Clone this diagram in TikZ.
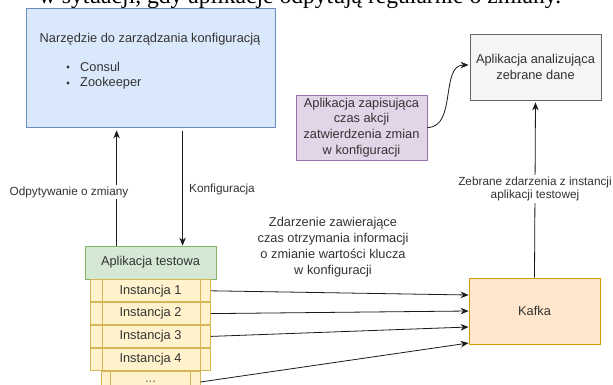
\documentclass[tikz,border=0pt]{standalone}
\usepackage{fontspec}
\setmainfont{Liberation Sans}
\newfontfamily\pagefont{Liberation Serif}
\usetikzlibrary{arrows.meta,calc,positioning}
\definecolor{blueF}{HTML}{DAE8FC}
\definecolor{blueD}{HTML}{6C8EBF}
\definecolor{greenF}{HTML}{D5E8D4}
\definecolor{greenD}{HTML}{82B366}
\definecolor{yellowF}{HTML}{FFF2CC}
\definecolor{yellowD}{HTML}{D6B656}
\definecolor{orangeF}{HTML}{FFE6CC}
\definecolor{orangeD}{HTML}{D79B00}
\definecolor{purpleF}{HTML}{E1D5E7}
\definecolor{purpleD}{HTML}{9673A6}
\definecolor{grayF}{HTML}{F5F5F5}
\definecolor{grayD}{HTML}{666666}
\definecolor{textC}{HTML}{333333}
\definecolor{lineC}{HTML}{1A1A1A}
\tikzset{
  txt/.style={inner sep=0pt, align=center, text=textC, font=\fontsize{12.8}{15.8}\selectfont},
  box/.style={txt, draw, rectangle, line width=0.8pt},
  inst/.style={box, fill=yellowF, draw=yellowD, minimum width=120pt, minimum height=22pt},
  lbl/.style={fill=white, inner sep=1.5pt, align=center, text=textC, font=\fontsize{11.8}{13.8}\selectfont},
  arr/.style={-{Stealth[length=8pt,width=6.5pt]}, line width=0.8pt, draw=lineC},
}

\begin{document}
\begin{tikzpicture}[x=1pt,y=-1pt]
  \clip (0,0) rectangle (613,385);
  \fill[white] (0,0) rectangle (613,385);
% line of the page above the figure
\node[anchor=base, inner sep=0pt, font=\pagefont\fontsize{23.6}{26}\selectfont] (ctx) at (300,4) {w sytuacji, gdy aplikacje odpytują regularnie o zmiany.};

% configuration tool
\node[box, fill=blueF, draw=blueD, minimum width=249pt, minimum height=119pt] (narz) at (150.5,67.5) {};
\node[txt] (narzT) at (150,39) {Narzędzie do zarządzania konfiguracją};
\fill[textC] (68,67) circle (1.6pt);
\fill[textC] (68,83) circle (1.6pt);
\node[txt, anchor=west] (consul) at (80,67) {Consul};
\node[txt, anchor=west] (zoo) at (80,83) {Zookeeper};

% tested application and its instances
\node[box, fill=greenF, draw=greenD, minimum width=131pt, minimum height=33pt] (testowa) at (150.5,262.5) {Aplikacja testowa};
\node[inst, below=0pt of testowa] (inst1) {Instancja 1};
\node[inst, below=0pt of inst1] (inst2) {Instancja 2};
\node[inst, below=0pt of inst2] (inst3) {Instancja 3};
\node[inst, below=0pt of inst3] (inst4) {Instancja 4};
\node[inst, minimum width=99pt, below=0pt of inst4, text=grayD] (dots) {...};
\draw[yellowD, line width=0.8pt] ([xshift=12pt]inst1.north west) -- ([xshift=12pt]inst4.south west);
\draw[yellowD, line width=0.8pt] ([xshift=-11pt]inst1.north east) -- ([xshift=-11pt]inst4.south east);
\draw[yellowD, line width=0.8pt] ([xshift=10pt]dots.north west) -- ([xshift=10pt]dots.south west);
\draw[yellowD, line width=0.8pt] ([xshift=-10pt]dots.north east) -- ([xshift=-10pt]dots.south east);

% polling / configuration
\coordinate (odpB) at ([xshift=32pt]testowa.north west);
\coordinate (konT) at ([xshift=157pt]narz.south west);
\draw[arr, shorten >=3pt] (odpB) -- (odpB |- narz.south);
\draw[arr, shorten <=4pt] (konT) -- (konT |- testowa.north);
\node[lbl] (odpL) at (69,192) {Odpytywanie o zmiany};
\node[lbl] (konL) at (222,189) {Konfiguracja};

% kafka and the collecting side
\node[box, fill=orangeF, draw=orangeD, minimum width=131pt, minimum height=66pt] (kafka) at (534.5,311) {Kafka};
\node[box, fill=grayF, draw=grayD, minimum width=131pt, minimum height=66pt] (anal) at (535.5,67) {Aplikacja analizująca\\zebrane dane};
\node[box, fill=purpleF, draw=purpleD, minimum width=131pt, minimum height=65pt] (zapis) at (361.5,127.5) {Aplikacja zapisująca\\czas akcji\\zatwierdzenia zmian\\w konfiguracji};
\node[txt] (zdarzL) at (333,247) {Zdarzenie zawierające\\czas otrzymania informacji\\o zmianie wartości klucza\\w konfiguracji};

\draw[arr] (inst1.east) -- ([yshift=16pt]kafka.west);
\draw[arr] (inst2.east) -- (kafka.west);
\draw[arr] (inst3.east) -- ([yshift=-16pt]kafka.west);
\draw[arr] (dots.east) -- ([yshift=-32pt]kafka.west);

\draw[arr, shorten >=2pt] (kafka.north) -- (anal.south);
\node[lbl] (zebrL) at (535,189) {Zebrane zdarzenia z instancji\\aplikacji testowej};
\draw[arr, shorten >=1pt] (zapis.east) to[out=0, in=180] ([yshift=2pt]anal.west);
\end{tikzpicture}
\end{document}
